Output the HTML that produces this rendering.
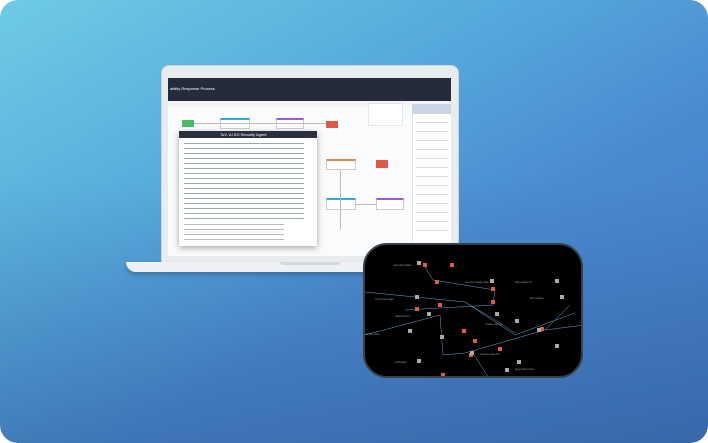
<!DOCTYPE html>
<html><head><style>
*{margin:0;padding:0;box-sizing:border-box}
body{width:708px;height:443px;background:#fff;overflow:hidden;font-family:"Liberation Sans","Noto Sans CJK KR",sans-serif}
.card{position:absolute;left:0;top:0;width:708px;height:443px;border-radius:18px;background:linear-gradient(180deg,rgba(0,0,0,0) 40%,rgba(20,40,90,.22) 100%),linear-gradient(150deg,#6fcbe4 0%,#56a9dc 35%,#4a8bd0 60%,#4279c0 100%);overflow:hidden}
.abs{position:absolute}
.t{position:absolute;font-size:3px;color:#555;white-space:nowrap}
</style></head><body>
<div class="card">
 <div class="abs" style="left:161px;top:65px;width:298px;height:200px;background:#e9ecef;border-radius:8px 8px 0 0;border:1px solid #cfd4d9"></div>
 <div class="abs" style="left:168px;top:78px;width:283px;height:178px;background:#fafbfc"></div>
 <div class="abs" style="left:168px;top:78px;width:283px;height:23px;background:#252b3b"></div>
 <div class="t" style="left:170px;top:86px;color:#fff;font-size:4px">ability Response Process</div>
 <div class="abs" style="left:168px;top:101px;width:283px;height:6px;background:#f1f3f5"></div>
 <div class="abs" style="left:412px;top:104px;width:39px;height:151px;background:#fff;border-left:1px solid #e3e6ea"></div>
 <div class="abs" style="left:412px;top:104px;width:39px;height:10px;background:#c9d5e6"></div>
 <div class="abs" style="left:416px;top:118px;width:32px;height:120px;background:repeating-linear-gradient(#fff 0 4px,#ddd 4px 5px,#fff 5px 9px)"></div>
 <div class="abs" style="left:368px;top:103px;width:35px;height:23px;background:#fff;border:1px solid #e3e6ea"></div>
 <div class="abs" style="left:182px;top:120px;width:12px;height:7px;background:#4cb86a"></div>
 <div class="abs" style="left:220px;top:118px;width:30px;height:11px;background:#fff;border:1px solid #ccc;border-top:2px solid #3aa6d8"></div>
 <div class="abs" style="left:276px;top:118px;width:28px;height:11px;background:#fff;border:1px solid #ccc;border-top:2px solid #9b5ad9"></div>
 <div class="abs" style="left:326px;top:121px;width:12px;height:7px;background:#dd5a4a"></div>
 <div class="abs" style="left:326px;top:159px;width:30px;height:11px;background:#fff;border:1px solid #ccc;border-top:2px solid #d98a4a"></div>
 <div class="abs" style="left:376px;top:160px;width:12px;height:8px;background:#dd5a4a"></div>
 <div class="abs" style="left:326px;top:198px;width:30px;height:12px;background:#fff;border:1px solid #ccc;border-top:2px solid #3aa6d8"></div>
 <div class="abs" style="left:376px;top:198px;width:28px;height:12px;background:#fff;border:1px solid #ccc;border-top:2px solid #9b5ad9"></div>
 <div class="abs" style="left:194px;top:123px;width:132px;height:1px;background:#bbb"></div>
 <div class="abs" style="left:340px;top:170px;width:1px;height:60px;background:#bbb"></div>
 <div class="abs" style="left:356px;top:204px;width:20px;height:1px;background:#bbb"></div>
 <div class="abs" style="left:179px;top:131px;width:138px;height:115px;background:#fff;box-shadow:0 2px 6px rgba(0,0,0,.35)"></div>
 <div class="abs" style="left:179px;top:131px;width:138px;height:7px;background:#2b3040"></div>
 <div class="t" style="left:220px;top:132px;color:#fff;font-size:4px">ToV- AI SG Security Agent</div>
 <div class="abs" style="left:184px;top:141px;width:120px;height:80px;background:repeating-linear-gradient(#fff 0 2px,#9aa 2px 3px,#fff 3px 5px)"></div>
 <div class="abs" style="left:184px;top:222px;width:100px;height:18px;background:repeating-linear-gradient(#fff 0 2px,#bbb 2px 3px,#fff 3px 5px)"></div>
 <div class="abs" style="left:126px;top:262px;width:356px;height:10px;background:#eef0f3;border-radius:0 0 10px 10px;box-shadow:0 3px 4px rgba(0,0,0,.2)"></div>
 <div class="abs" style="left:280px;top:262px;width:60px;height:3px;background:#d4d8dd;border-radius:0 0 3px 3px"></div>
 <div class="abs" style="left:363px;top:243px;width:220px;height:135px;background:#000;border-radius:24px;overflow:hidden;border:2px solid #3a3f48">
  <svg width="220" height="135" style="position:absolute;left:0;top:0">
   <g stroke="#6aa7d6" stroke-width=".5" fill="none">
    <path d="M0 47 L100 57 L150 90 L210 68"/>
    <path d="M0 90 L75 70 L78 110 L100 108 L180 85 L220 80"/>
    <path d="M60 22 L68 35 L130 45 L128 60 L40 65"/>
    <path d="M100 57 L130 75 L150 88"/>
    <path d="M108 108 L125 135"/>
    <path d="M205 60 L180 85"/>
   </g>
   <g fill="#e05a45"><rect x="58" y="18" width="4" height="4"/><rect x="70" y="35" width="4" height="4"/><rect x="126" y="42" width="4" height="4"/><rect x="126" y="55" width="4" height="4"/><rect x="50" y="62" width="4" height="4"/><rect x="97" y="84" width="4" height="4"/><rect x="108" y="94" width="4" height="4"/><rect x="133" y="102" width="4" height="4"/><rect x="73" y="58" width="4" height="4"/><rect x="175" y="82" width="4" height="4"/><rect x="76" y="128" width="4" height="4"/><rect x="104" y="108" width="4" height="4"/><rect x="85" y="18" width="4" height="4"/></g>
   <g fill="#aaa"><rect x="52" y="16" width="4" height="4"/><rect x="125" y="34" width="4" height="4"/><rect x="190" y="34" width="4" height="4"/><rect x="50" y="50" width="4" height="4"/><rect x="195" y="50" width="4" height="4"/><rect x="62" y="67" width="4" height="4"/><rect x="130" y="67" width="4" height="4"/><rect x="43" y="84" width="4" height="4"/><rect x="75" y="90" width="4" height="4"/><rect x="172" y="83" width="4" height="4"/><rect x="218" y="83" width="4" height="4"/><rect x="190" y="99" width="4" height="4"/><rect x="105" y="106" width="4" height="4"/><rect x="52" y="114" width="4" height="4"/><rect x="152" y="115" width="4" height="4"/><rect x="140" y="123" width="4" height="4"/><rect x="150" y="74" width="4" height="4"/></g>
   <g fill="#999" font-size="2.5" font-family="Liberation Sans">
    <text x="28" y="21">node.label.alpha</text><text x="100" y="38">service.module.graph</text><text x="150" y="38">class.object.ref</text>
    <text x="10" y="55">component.edge</text><text x="165" y="54">item.relation</text><text x="30" y="72">data.flow.item</text>
    <text x="120" y="80">module.core.ref</text><text x="0" y="90">ref.item.node</text><text x="115" y="110">process.node.link</text>
    <text x="30" y="118">entity.label</text><text x="150" y="125">graph.label.node</text>
   </g>
  </svg>
 </div>
</div>
</body></html>
